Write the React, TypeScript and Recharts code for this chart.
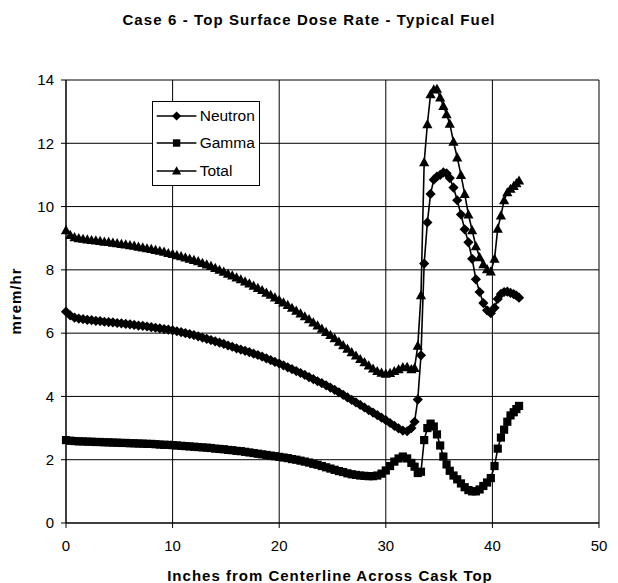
import React from "react";
import {CartesianGrid, Label, Legend, Line, LineChart, XAxis, YAxis} from "recharts";

// distance from centerline (inches)
const inches = [
    0, 0.4, 0.8, 1.2, 1.6, 2, 2.4, 2.8, 3.2, 3.6,
    4, 4.4, 4.8, 5.2, 5.6, 6, 6.4, 6.8, 7.2, 7.6,
    8, 8.4, 8.8, 9.2, 9.6, 10, 10.4, 10.8, 11.2, 11.6,
    12, 12.4, 12.8, 13.2, 13.6, 14, 14.4, 14.8, 15.2, 15.6,
    16, 16.4, 16.8, 17.2, 17.6, 18, 18.4, 18.8, 19.2, 19.6,
    20, 20.4, 20.8, 21.2, 21.6, 22, 22.4, 22.8, 23.2, 23.6,
    24, 24.4, 24.8, 25.2, 25.6, 26, 26.4, 26.8, 27.2, 27.6,
    28, 28.4, 28.8, 29.2, 29.6, 30, 30.4, 30.8, 31.2, 31.6,
    32, 32.4,
    32.7, 33, 33.3, 33.6, 33.9, 34.2, 34.5, 34.8, 35.1, 35.4, 35.7, 36,
    36.35, 36.7, 37.05, 37.4, 37.75, 38.1, 38.45, 38.8, 39.15, 39.5, 39.85,
    40.2, 40.5, 40.8, 41.1, 41.4, 41.7, 42, 42.25, 42.5
];

// mrem/hr
const neutron = [
    6.68, 6.56, 6.49, 6.46, 6.44, 6.42, 6.41, 6.39, 6.38, 6.36,
    6.35, 6.34, 6.32, 6.31, 6.29, 6.28, 6.26, 6.24, 6.23, 6.21,
    6.19, 6.17, 6.15, 6.13, 6.11, 6.09, 6.06, 6.03, 6.00, 5.97,
    5.94, 5.90, 5.86, 5.82, 5.78, 5.74, 5.70, 5.66, 5.61, 5.57,
    5.52, 5.48, 5.44, 5.40, 5.35, 5.31, 5.26, 5.20, 5.15, 5.09,
    5.04, 4.98, 4.92, 4.86, 4.80, 4.74, 4.68, 4.61, 4.55, 4.48,
    4.42, 4.35, 4.28, 4.21, 4.13, 4.05, 3.97, 3.89, 3.81, 3.73,
    3.65, 3.57, 3.49, 3.41, 3.33, 3.25, 3.16, 3.07, 2.99, 2.92,
    2.90, 3.00,
    3.2, 3.9, 5.3, 8.2, 9.5, 10.4, 10.85, 10.95, 11.0, 11.08, 11.05, 10.9,
    10.6, 10.2, 9.75, 9.28, 8.87, 8.35, 7.7, 7.3, 6.95, 6.72, 6.63,
    6.8, 7.08, 7.24, 7.3, 7.31, 7.27, 7.23, 7.19, 7.12
];

const gamma = [
    2.62, 2.60, 2.59, 2.58, 2.58, 2.57, 2.57, 2.56, 2.56, 2.55,
    2.55, 2.54, 2.54, 2.53, 2.53, 2.52, 2.52, 2.51, 2.51, 2.50,
    2.50, 2.49, 2.48, 2.47, 2.47, 2.46, 2.45, 2.44, 2.43, 2.42,
    2.41, 2.40, 2.39, 2.38, 2.37, 2.35, 2.34, 2.33, 2.31, 2.30,
    2.28, 2.27, 2.25, 2.23, 2.21, 2.19, 2.17, 2.15, 2.13, 2.11,
    2.09, 2.07, 2.05, 2.02, 2.00, 1.97, 1.94, 1.91, 1.87, 1.84,
    1.80, 1.76, 1.72, 1.68, 1.64, 1.61, 1.57, 1.54, 1.52, 1.50,
    1.49, 1.48, 1.48, 1.50, 1.56, 1.66, 1.80, 1.94, 2.04, 2.10,
    2.04, 1.90,
    1.78, 1.58, 1.62, 2.62, 3.0, 3.14, 3.05, 2.8, 2.45, 2.1, 1.85, 1.65,
    1.5, 1.38, 1.25, 1.13, 1.04, 1.0, 1.0, 1.06, 1.17, 1.28, 1.42,
    1.8, 2.35, 2.7, 2.95, 3.2, 3.4, 3.5, 3.6, 3.7
];

const total = [
    9.25, 9.10, 9.03, 9.00, 8.98, 8.96, 8.94, 8.93, 8.91, 8.89,
    8.88, 8.86, 8.84, 8.82, 8.80, 8.78, 8.76, 8.73, 8.71, 8.68,
    8.66, 8.63, 8.60, 8.57, 8.53, 8.50, 8.46, 8.43, 8.39, 8.35,
    8.31, 8.27, 8.22, 8.17, 8.12, 8.06, 8.00, 7.94, 7.88, 7.82,
    7.76, 7.70, 7.63, 7.57, 7.50, 7.43, 7.36, 7.28, 7.21, 7.13,
    7.05, 6.97, 6.89, 6.80, 6.71, 6.62, 6.53, 6.44, 6.34, 6.24,
    6.14, 6.04, 5.94, 5.84, 5.73, 5.62, 5.51, 5.40, 5.29, 5.18,
    5.08, 4.98, 4.88, 4.80, 4.75, 4.72, 4.74, 4.80, 4.86, 4.92,
    4.93, 4.86,
    4.9, 5.6, 7.2, 11.4, 12.6, 13.55, 13.7, 13.72, 13.45, 13.18, 12.92, 12.62,
    12.05, 11.55, 11.0, 10.4, 9.75, 9.25, 8.75, 8.4, 8.18, 8.02, 7.95,
    8.35, 9.3, 9.72, 10.2, 10.45, 10.56, 10.65, 10.74, 10.82
];

const xTicks = [0, 10, 20, 30, 40, 50];
const yTicks = [0, 2, 4, 6, 8, 10, 12, 14];

const data = inches.map((x, i) => ({x, Neutron: neutron[i], Gamma: gamma[i], Total: total[i]}));

const FONT = '"Liberation Sans", Arial, Helvetica, sans-serif';

const Diamond = ({cx, cy, s = 1}: any) => (
    <polygon points={`${cx},${cy - 5.1 * s} ${cx + 5.1 * s},${cy} ${cx},${cy + 5.1 * s} ${cx - 5.1 * s},${cy}`} fill="#000"/>
);
const Square = ({cx, cy, s = 1}: any) => (
    <rect x={cx - 4.1 * s} y={cy - 4.1 * s} width={8.2 * s} height={8.2 * s} fill="#000"/>
);
const Triangle = ({cx, cy, s = 1}: any) => (
    <polygon points={`${cx},${cy - 5.2 * s} ${cx + 5.1 * s},${cy + 4 * s} ${cx - 5.1 * s},${cy + 4 * s}`} fill="#000"/>
);

const series: [string, any][] = [["Neutron", Diamond], ["Gamma", Square], ["Total", Triangle]];

function LegendBox() {
    return (
        <div style={{border: "1px solid #000", background: "#fff", width: 106, height: 83,
            fontFamily: FONT, fontSize: 15.5, color: "#000"}}>
            {series.map(([name, Marker]) => (
                <div key={name} style={{display: "flex", alignItems: "center", height: 27.67}}>
                    <svg width={45} height={14} style={{display: "block"}}>
                        <line x1={3.7} y1={7} x2={43.4} y2={7} stroke="#000" strokeWidth={1.4}/>
                        <Marker cx={23.6} cy={7} s={0.9}/>
                    </svg>
                    <span style={{marginLeft: 1.7}}>{name}</span>
                </div>
            ))}
        </div>
    );
}

const tickStyle = {fill: "#000", fontSize: 15, fontFamily: FONT};

export default function App() {
    return (
        <div style={{position: "relative", width: 602, height: 575}}>
            <div style={{position: "absolute", left: 0, top: 3, width: 602, textAlign: "center",
                fontFamily: FONT, fontWeight: "bold", fontSize: 15, lineHeight: "18px", letterSpacing: 1.1}}>
                Case 6 - Top Surface Dose Rate - Typical Fuel
            </div>
            <LineChart width={602} height={575} data={data} margin={{top: 72, right: 11, left: 18, bottom: 30}}>
                <CartesianGrid stroke="#000" strokeWidth={1}/>
                <XAxis type="number" dataKey="x" domain={[0, 50]} ticks={xTicks} interval={0} height={30}
                       tickSize={5} tickMargin={12} stroke="#000" tick={tickStyle}>
                    <Label content={() => (
                        <text x={322} y={573} textAnchor="middle" fontFamily={FONT} fontWeight="bold"
                              fontSize={15} letterSpacing={1} fill="#000">
                            Inches from Centerline Across Cask Top
                        </text>
                    )}/>
                </XAxis>
                <YAxis type="number" domain={[0, 14]} ticks={yTicks} interval={0} width={40}
                       tickSize={5} tickMargin={7} stroke="#000" tick={tickStyle}>
                    <Label content={() => (
                        <text x={7} y={298.5} transform="rotate(-90 7 293)" textAnchor="middle" fontFamily={FONT}
                              fontWeight="bold" fontSize={15} letterSpacing={1} fill="#000">
                            mrem/hr
                        </text>
                    )}/>
                </YAxis>
                <Legend layout="vertical" align="center" verticalAlign="middle" content={() => <LegendBox/>}
                        wrapperStyle={{left: 144, top: 93, width: 108, height: 85}}/>
                <Line dataKey="Neutron" type="linear" stroke="#000" strokeWidth={1.6} isAnimationActive={false}
                      activeDot={false} dot={(p: any) => <Diamond key={`n${p.index}`} cx={p.cx} cy={p.cy}/>}/>
                <Line dataKey="Gamma" type="linear" stroke="#000" strokeWidth={1.6} isAnimationActive={false}
                      activeDot={false} dot={(p: any) => <Square key={`g${p.index}`} cx={p.cx} cy={p.cy}/>}/>
                <Line dataKey="Total" type="linear" stroke="#000" strokeWidth={1.6} isAnimationActive={false}
                      activeDot={false} dot={(p: any) => <Triangle key={`t${p.index}`} cx={p.cx} cy={p.cy}/>}/>
            </LineChart>
        </div>
    );
}
